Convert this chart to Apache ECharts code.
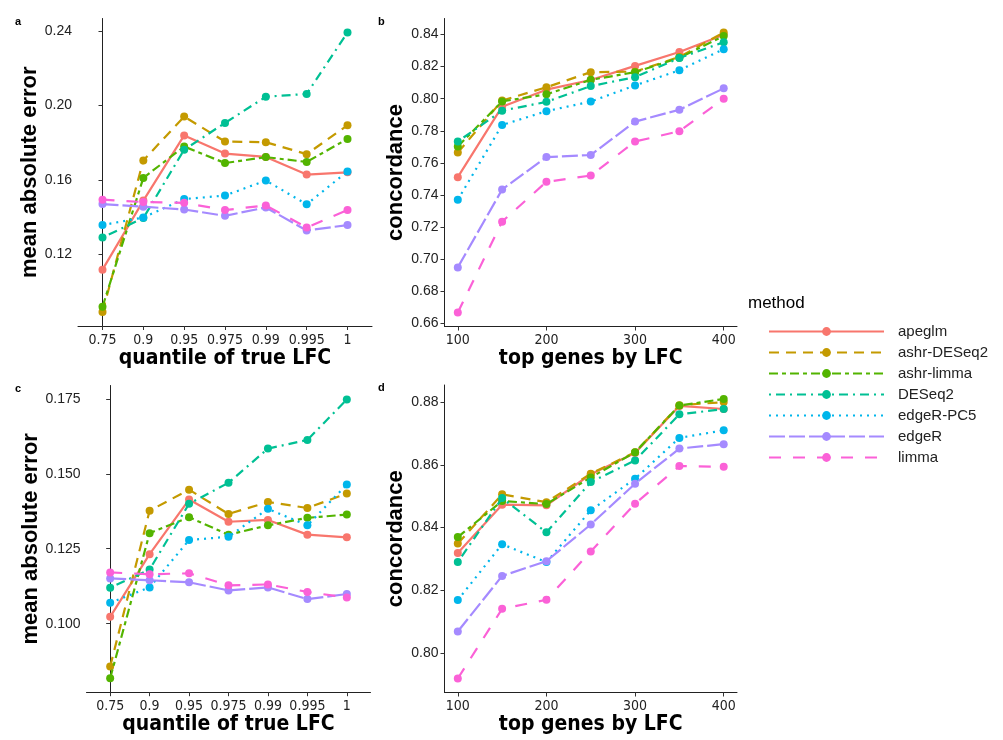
<!DOCTYPE html>
<html>
<head>
<meta charset="utf-8">
<script src="https://cdn.jsdelivr.net/npm/echarts@6/dist/echarts.min.js"></script>
<style>
html, body { margin: 0; padding: 0; background: #fff; }
#chart { width: 1003px; height: 740px; }
</style>
</head>
<body>
<div id="chart"></div>
<script>
// methods in legend / drawing order
var methods = ['apeglm', 'ashr-DESeq2', 'ashr-limma', 'DESeq2', 'edgeR-PC5', 'edgeR', 'limma'];
var quantileLabels = ['0.75', '0.9', '0.95', '0.975', '0.99', '0.995', '1'];
var topGenes = [100, 150, 200, 250, 300, 350, 400];

// tick labels per panel
var ticksA = [0.12, 0.16, 0.20, 0.24];
var ticksB = [0.66, 0.68, 0.70, 0.72, 0.74, 0.76, 0.78, 0.80, 0.82, 0.84];
var ticksC = [0.100, 0.125, 0.150, 0.175];
var ticksD = [0.80, 0.82, 0.84, 0.86, 0.88];
var genesTicks = [100, 200, 300, 400];

// panel a: mean absolute error by quantile of true LFC (one row per method)
var maeA = [
  [0.1116, 0.1488, 0.1839, 0.1741, 0.1723, 0.1628, 0.1640],
  [0.0888, 0.1704, 0.1940, 0.1806, 0.1802, 0.1738, 0.1893],
  [0.0916, 0.1610, 0.1779, 0.1690, 0.1722, 0.1696, 0.1820],
  [0.1289, 0.1394, 0.1762, 0.1906, 0.2047, 0.2062, 0.2393],
  [0.1356, 0.1397, 0.1496, 0.1515, 0.1596, 0.1468, 0.1645],
  [0.1469, 0.1455, 0.1440, 0.1406, 0.1451, 0.1327, 0.1356],
  [0.1493, 0.1480, 0.1476, 0.1437, 0.1462, 0.1343, 0.1437]
];
// panel b: concordance by top genes
var concB = [
  [0.7511, 0.7950, 0.8056, 0.8116, 0.8204, 0.8291, 0.8398],
  [0.7664, 0.7988, 0.8071, 0.8165, 0.8168, 0.8260, 0.8412],
  [0.7702, 0.7983, 0.8027, 0.8117, 0.8165, 0.8254, 0.8390],
  [0.7733, 0.7925, 0.7980, 0.8078, 0.8134, 0.8253, 0.8352],
  [0.7370, 0.7836, 0.7922, 0.7982, 0.8082, 0.8177, 0.8308],
  [0.6949, 0.7434, 0.7636, 0.7649, 0.7857, 0.7931, 0.8064],
  [0.6668, 0.7234, 0.7482, 0.7521, 0.7733, 0.7797, 0.8000]
];
// panel c
var maeC = [
  [0.1023, 0.1232, 0.1414, 0.1340, 0.1346, 0.1297, 0.1288],
  [0.0857, 0.1377, 0.1447, 0.1366, 0.1406, 0.1386, 0.1434],
  [0.0818, 0.1302, 0.1355, 0.1297, 0.1328, 0.1353, 0.1364],
  [0.1120, 0.1181, 0.1400, 0.1470, 0.1584, 0.1613, 0.1748],
  [0.1070, 0.1121, 0.1279, 0.1290, 0.1383, 0.1328, 0.1464],
  [0.1151, 0.1145, 0.1138, 0.1111, 0.1121, 0.1082, 0.1099],
  [0.1171, 0.1165, 0.1168, 0.1128, 0.1131, 0.1106, 0.1087]
];
// panel d
var concD = [
  [0.8319, 0.8473, 0.8471, 0.8570, 0.8638, 0.8788, 0.8778],
  [0.8349, 0.8506, 0.8481, 0.8572, 0.8640, 0.8790, 0.8800],
  [0.8370, 0.8485, 0.8475, 0.8560, 0.8640, 0.8789, 0.8810],
  [0.8290, 0.8494, 0.8385, 0.8545, 0.8614, 0.8761, 0.8778],
  [0.8169, 0.8347, 0.8290, 0.8455, 0.8556, 0.8686, 0.8710],
  [0.8069, 0.8246, 0.8293, 0.8410, 0.8540, 0.8652, 0.8666],
  [0.7919, 0.8141, 0.8170, 0.8324, 0.8476, 0.8596, 0.8594]
];

var colors = ['#F8766D', '#C49A00', '#53B400', '#00C094', '#00B6EB', '#A58AFF', '#FB61D7'];
var dashes = ['solid', [10, 7], [9, 4, 4, 4], [2, 5, 9, 5], [2, 5], [16, 4], [12, 12]];

var chart = echarts.init(document.getElementById('chart'));

// ggplot style 5% expansion of the data range
function expand(rows) {
  var lo = Infinity, hi = -Infinity;
  rows.forEach(function (r) { r.forEach(function (v) { lo = Math.min(lo, v); hi = Math.max(hi, v); }); });
  var pad = (hi - lo) * 0.05;
  return [lo - pad, hi + pad];
}

var axisLine = { show: true, lineStyle: { color: '#222', width: 1 } };
var tickStyle = { show: true, length: 4, lineStyle: { color: '#333', width: 1 } };
var narrow = "'Liberation Sans Narrow', 'DejaVu Sans Condensed', 'Liberation Sans', sans-serif";

function quantileAxis(idx) {
  return {
    type: 'value', gridIndex: idx, min: -0.6, max: 6.6,
    name: 'quantile of true LFC', nameLocation: 'middle', nameGap: 19,
    nameTextStyle: { fontFamily: narrow, fontWeight: 'bold', fontSize: 21, color: '#000' },
    axisLine: axisLine,
    axisTick: Object.assign({ customValues: [0, 1, 2, 3, 4, 5, 6] }, tickStyle),
    axisLabel: {
      customValues: [0, 1, 2, 3, 4, 5, 6], margin: 7,
      fontFamily: narrow, fontSize: 14, color: '#222',
      formatter: function (v) { return quantileLabels[Math.round(v)]; }
    },
    splitLine: { show: false }
  };
}
function genesAxis(idx) {
  var r = [topGenes[0] - 15, topGenes[6] + 15];
  return {
    type: 'value', gridIndex: idx, min: r[0], max: r[1],
    name: 'top genes by LFC', nameLocation: 'middle', nameGap: 19,
    nameTextStyle: { fontFamily: narrow, fontWeight: 'bold', fontSize: 21, color: '#000' },
    axisLine: axisLine,
    axisTick: Object.assign({ customValues: genesTicks }, tickStyle),
    axisLabel: { customValues: genesTicks, margin: 7, fontFamily: narrow, fontSize: 14, color: '#222' },
    splitLine: { show: false }
  };
}
function valAxis(idx, rows, ticks, name, gap, digits) {
  var r = expand(rows);
  return {
    type: 'value', gridIndex: idx, min: r[0], max: r[1],
    name: name, nameLocation: 'middle', nameGap: gap,
    nameTextStyle: { fontWeight: 'bold', fontSize: 22, color: '#000' },
    axisLine: axisLine,
    axisTick: Object.assign({ customValues: ticks }, tickStyle),
    axisLabel: {
      customValues: ticks, margin: 6, fontSize: 14, color: '#222',
      formatter: function (v) { return v.toFixed(digits); }
    },
    splitLine: { show: false }
  };
}

var panels = [maeA, concB, maeC, concD];
var series = [];
panels.forEach(function (rows, p) {
  rows.forEach(function (vals, m) {
    series.push({
      type: 'line', name: methods[m], xAxisIndex: p, yAxisIndex: p,
      data: vals.map(function (v, i) { return [p % 2 === 0 ? i : topGenes[i], v]; }),
      symbol: 'circle', symbolSize: 8, showSymbol: true,
      lineStyle: { color: colors[m], width: 2.2, type: dashes[m] },
      itemStyle: { color: colors[m] },
      emphasis: { disabled: true },
      z: 2 + m
    });
  });
});

chart.setOption({
  animation: false,
  textStyle: { fontFamily: "'Liberation Sans', sans-serif" },
  title: [
    { text: 'a', left: 10, top: 11, textStyle: { fontSize: 11, fontWeight: 'bold', color: '#000' } },
    { text: 'b', left: 373, top: 11, textStyle: { fontSize: 11, fontWeight: 'bold', color: '#000' } },
    { text: 'c', left: 10, top: 378, textStyle: { fontSize: 11, fontWeight: 'bold', color: '#000' } },
    { text: 'd', left: 373, top: 377, textStyle: { fontSize: 11, fontWeight: 'bold', color: '#000' } },
    { text: 'method', left: 743, top: 290, textStyle: { fontSize: 17, fontWeight: 'normal', color: '#000' } }
  ],
  legend: {
    data: methods, orient: 'vertical', left: 763, top: 319,
    itemWidth: 115, itemHeight: 11, itemGap: 6,
    textStyle: { fontSize: 15, lineHeight: 15, color: '#222', padding: [0, 0, 0, 9] },
    selectedMode: false
  },
  grid: [
    { left: 78, top: 18.5, width: 294, height: 307.5 },
    { left: 444.5, top: 18.5, width: 292.5, height: 308 },
    { left: 86.5, top: 385.5, width: 284, height: 306.7 },
    { left: 444.5, top: 385, width: 292.5, height: 307.5 }
  ],
  xAxis: [quantileAxis(0), genesAxis(1), quantileAxis(2), genesAxis(3)],
  yAxis: [
    valAxis(0, maeA, ticksA, 'mean absolute error', 34, 2),
    valAxis(1, concB, ticksB, 'concordance', 35, 2),
    valAxis(2, maeC, ticksC, 'mean absolute error', 43, 3),
    valAxis(3, concD, ticksD, 'concordance', 35, 2)
  ],
  series: series
});
</script>
</body>
</html>
